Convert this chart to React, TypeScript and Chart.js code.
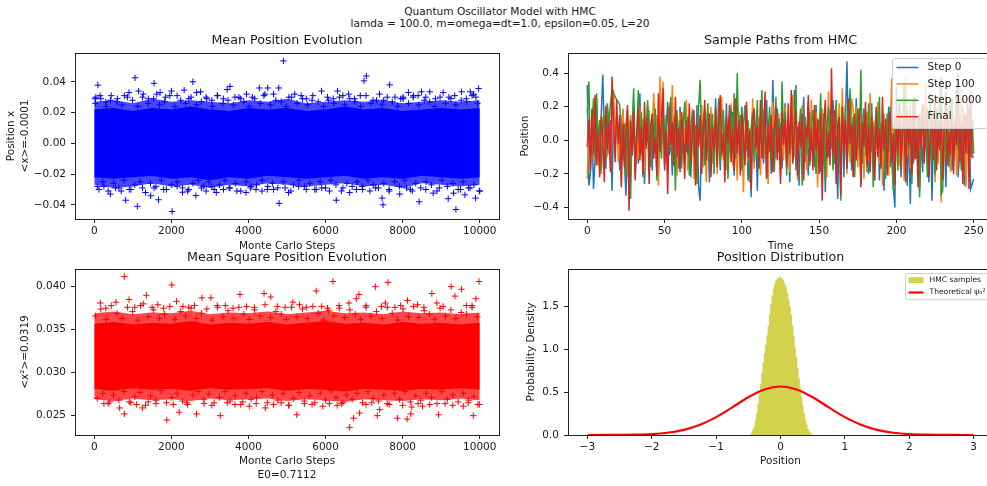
import React, { useEffect, useRef } from 'react';
import { Chart, registerables } from 'chart.js';

Chart.register(...registerables);

const FONT = '"DejaVu Sans", "Liberation Sans", sans-serif';
const TXT = '#1a1a1a';
const AXIS = '#222222';

// ---------------- text ----------------
const SUPTITLE = ['Quantum Oscillator Model with HMC', 'lamda = 100.0, m=omega=dt=1.0, epsilon=0.05, L=20'];
const TITLES = ['Mean Position Evolution', 'Sample Paths from HMC', 'Mean Square Position Evolution', 'Position Distribution'];
const X_TITLES: (string | string[])[] = ['Monte Carlo Steps', 'Time', ['Monte Carlo Steps', 'E0=0.7112'], 'Position'];
const Y_TITLES: (string | string[])[] = [['Position x', '<x>=-0.0001'], 'Position', '<x²>=0.0319', 'Probability Density'];
const PATH_LABELS = ['Step 0', 'Step 100', 'Step 1000', 'Final'];
const PATH_COLORS = ['#1f77b4', '#ff7f0e', '#2ca02c', '#d62728'];
const DIST_LABELS = ['HMC samples', 'Theoretical ψ₀²'];

// ---------------- ticks ----------------
const STEP_TICKS = [0, 2000, 4000, 6000, 8000, 10000];
const STEP_TICK_LABELS = ['0', '2000', '4000', '6000', '8000', '10000'];
const MEANX_TICKS = [-0.04, -0.02, 0, 0.02, 0.04];
const MEANX_TICK_LABELS = ['−0.04', '−0.02', '0.00', '0.02', '0.04'];
const MEANX2_TICKS = [0.025, 0.03, 0.035, 0.04];
const MEANX2_TICK_LABELS = ['0.025', '0.030', '0.035', '0.040'];
const TIME_TICKS = [0, 50, 100, 150, 200, 250];
const TIME_TICK_LABELS = ['0', '50', '100', '150', '200', '250'];
const PATH_Y_TICKS = [-0.4, -0.2, 0, 0.2, 0.4];
const PATH_Y_TICK_LABELS = ['−0.4', '−0.2', '0.0', '0.2', '0.4'];
const POS_TICKS = [-3, -2, -1, 0, 1, 2, 3];
const POS_TICK_LABELS = ['−3', '−2', '−1', '0', '1', '2', '3'];
const DENS_TICKS = [0, 0.5, 1, 1.5];
const DENS_TICK_LABELS = ['0.0', '0.5', '1.0', '1.5'];

// ---------------- mean position <x> (dense cloud + scattered crosses) ----------------
const BAND_STEPS = [0, 500, 1000, 1500, 2000, 2500, 3000, 3500, 4000, 4500, 5000, 5500, 6000, 6500, 7000, 7500, 8000, 8500, 9000, 9500, 10000];
const MX_CORE_HI = [.022, .023, .021, .023, .022, .024, .022, .021, .023, .022, .023, .021, .022, .024, .022, .023, .021, .022, .023, .022, .023];
const MX_CORE_LO = [-.022, -.023, -.022, -.021, -.023, -.022, -.024, -.022, -.023, -.021, -.022, -.023, -.022, -.021, -.023, -.022, -.023, -.021, -.022, -.023, -.022];
const MX_MID_HI = [.027, .028, .026, .029, .027, .028, .027, .026, .028, .027, .029, .026, .027, .028, .027, .028, .026, .027, .028, .027, .028];
const MX_MID_LO = [-.027, -.029, -.028, -.026, -.028, -.027, -.029, -.027, -.028, -.026, -.027, -.028, -.027, -.026, -.028, -.027, -.029, -.026, -.027, -.028, -.027];
const FR_STEP_A = [
  30, 170, 310, 440, 590, 720, 860, 990, 1130, 1270,
  1400, 1540, 1690, 1820, 1960, 2090, 2240, 2370, 2510, 2650,
  2780, 2920, 3060, 3190, 3340, 3470, 3610, 3750, 3880, 4020,
  4160, 4300, 4430, 4570, 4710, 4850, 4980, 5120, 5260, 5400,
  5530, 5670, 5810, 5950, 6080, 6220, 6360, 6500, 6630, 6770,
  6910, 7050, 7180, 7320, 7460, 7600, 7730, 7870, 8010, 8150,
  8280, 8420, 8560, 8700, 8830, 8970, 9110, 9250, 9380, 9520,
  9660, 9800, 9940,
];
const FR_STEP_B = [
  80, 220, 360, 500, 640, 770, 910, 1050, 1190, 1330,
  1460, 1600, 1740, 1870, 2010, 2150, 2290, 2420, 2560, 2700,
  2840, 2970, 3110, 3250, 3390, 3520, 3660, 3800, 3940, 4070,
  4210, 4350, 4490, 4620, 4760, 4900, 5040, 5170, 5310, 5450,
  5590, 5720, 5860, 6000, 6140, 6270, 6410, 6550, 6690, 6820,
  6960, 7100, 7240, 7370, 7510, 7650, 7790, 7920, 8060, 8200,
  8340, 8470, 8610, 8750, 8890, 9020, 9160, 9300, 9440, 9570,
  9710, 9850, 9990,
];
const MX_FR_HI = [
  .026, .029, .024, .031, .027, .025, .030, .028, .024, .032,
  .026, .029, .025, .027, .031, .024, .028, .026, .030, .025,
  .027, .029, .024, .031, .026, .028, .025, .030, .027, .024,
  .029, .026, .032, .025, .028, .027, .024, .030, .026, .029,
  .025, .031, .027, .024, .028, .026, .030, .025, .029, .027,
  .024, .031, .026, .028, .025, .030, .027, .024, .029, .026,
  .031, .025, .028, .027, .024, .030, .026, .029, .025, .028,
  .027, .031, .026,
];
const MX_FR_LO = [
  -.028, -.025, -.031, -.026, -.029, -.024, -.030, -.027, -.025, -.032,
  -.026, -.028, -.024, -.030, -.027, -.025, -.029, -.031, -.026, -.024,
  -.028, -.025, -.030, -.027, -.024, -.029, -.026, -.031, -.025, -.028,
  -.027, -.024, -.030, -.026, -.029, -.025, -.032, -.027, -.024, -.028,
  -.026, -.030, -.025, -.029, -.024, -.027, -.031, -.026, -.028, -.025,
  -.030, -.024, -.027, -.029, -.026, -.031, -.025, -.028, -.024, -.030,
  -.026, -.029, -.025, -.027, -.031, -.024, -.028, -.026, -.030, -.025,
  -.029, -.027, -.031,
];
const MX_PTS_STEP = [
  95, 43, 20, 150, 300, 420, 600, 780, 900, 1058, 1150, 1250, 1400, 1552, 1620, 1708, 1850, 2003, 2150, 2332,
  2450, 2557, 2650, 2757, 2900, 3050, 3200, 3350, 3450, 3520, 3650, 3800, 3950, 4100, 4283, 4400, 4500, 4650, 4786, 4907,
  5050, 5200, 5366, 5500, 5650, 5895, 6050, 6200, 6312, 6450, 6598, 6750, 6900, 6997, 7057, 7231, 7400, 7508, 7664, 7800,
  7950, 8011, 8150, 8271, 8400, 8488, 8600, 8705, 8850, 9050, 9200, 9350, 9528, 9650, 9754, 9840, 9970, 9900,
  121, 250, 416, 550, 700, 815, 950, 1118, 1250, 1465, 1550, 1665, 1800, 2020, 2150, 2289, 2450, 2636, 2780, 2900,
  3050, 3165, 3350, 3500, 3700, 3936, 4050, 4196, 4350, 4500, 4650, 4794, 4950, 5100, 5300, 5500, 5757, 5900, 6100, 6277,
  6450, 6624, 6800, 6950, 7150, 7300, 7465, 7491, 7650, 7924, 8100, 8250, 8427, 8600, 8791, 8950, 9181, 9320, 9381, 9500,
  9615, 9750, 9892, 10000,
];
const MX_PTS_VAL = [
  .0378, .030, .029, .031, .027, .028, .029, .031, .033, .0426, .034, .030, .029, .039, .032, .033, .030, .034, .031, .0346,
  .029, .040, .033, .0335, .030, .028, .031, .029, .035, .037, .030, .029, .032, .030, .036, .031, .036, .032, .036, .0536,
  .030, .032, .031, .029, .028, .034, .030, .029, .034, .031, .032, .029, .031, .0406, .0438, .028, .032, .028, .038, .030,
  .029, .030, .033, .030, .031, .0335, .030, .0335, .029, .033, .030, .031, .0335, .029, .0335, .032, .0356, .030,
  -.030, -.028, -.033, -.029, -.031, -.037, -.030, -.041, -.029, -.0341, -.029, -.0367, -.030, -.0443, -.028, -.0318, -.030, -.034, -.029, -.031,
  -.028, -.032, -.030, -.029, -.031, -.032, -.029, -.030, -.031, -.028, -.030, -.039, -.029, -.031, -.028, -.030, -.030, -.029, -.031, -.037,
  -.029, -.032, -.030, -.028, -.031, -.029, -.0356, -.040, -.030, -.033, -.029, -.031, -.038, -.030, -.0324, -.029, -.036, -.0324, -.043, -.030,
  -.0335, -.029, -.0356, -.031,
];

// ---------------- mean square position <x²> ----------------
const MX2_CORE_HI = [.0357, .0359, .0356, .0358, .0357, .0360, .0356, .0358, .0357, .0359, .0356, .0358, .0360, .0357, .0358, .0356, .0359, .0357, .0358, .0356, .0358];
const MX2_CORE_LO = [.0281, .0279, .0282, .0280, .0281, .0279, .0282, .0280, .0281, .0282, .0279, .0281, .0280, .0278, .0281, .0280, .0279, .0281, .0280, .0282, .0280];
const MX2_MID_HI = [.0369, .0371, .0368, .0370, .0369, .0372, .0368, .0370, .0369, .0371, .0368, .0370, .0372, .0369, .0370, .0368, .0371, .0369, .0370, .0368, .0370];
const MX2_MID_LO = [.0269, .0267, .0270, .0268, .0269, .0267, .0270, .0268, .0269, .0270, .0267, .0269, .0268, .0266, .0269, .0268, .0267, .0269, .0268, .0270, .0268];
const MX2_FR_HI = [
  .0366, .0374, .0362, .0378, .0369, .0363, .0376, .0371, .0361, .0380,
  .0365, .0373, .0363, .0368, .0377, .0362, .0371, .0366, .0375, .0363,
  .0369, .0374, .0361, .0378, .0365, .0372, .0363, .0376, .0368, .0362,
  .0373, .0366, .0379, .0364, .0371, .0368, .0362, .0376, .0365, .0374,
  .0363, .0377, .0369, .0361, .0372, .0366, .0375, .0364, .0373, .0368,
  .0362, .0378, .0366, .0371, .0363, .0376, .0369, .0361, .0374, .0365,
  .0377, .0364, .0372, .0368, .0362, .0375, .0366, .0373, .0363, .0370,
  .0368, .0378, .0365,
];
const MX2_FR_LO = [
  .0270, .0276, .0264, .0274, .0268, .0278, .0266, .0272, .0277, .0262,
  .0273, .0268, .0279, .0265, .0271, .0276, .0267, .0263, .0274, .0278,
  .0269, .0275, .0265, .0271, .0278, .0267, .0273, .0263, .0276, .0269,
  .0271, .0278, .0265, .0274, .0268, .0276, .0262, .0270, .0277, .0267,
  .0273, .0265, .0276, .0268, .0279, .0271, .0264, .0274, .0269, .0276,
  .0265, .0278, .0270, .0267, .0274, .0263, .0276, .0269, .0278, .0266,
  .0273, .0268, .0276, .0271, .0264, .0278, .0269, .0274, .0266, .0276,
  .0268, .0272, .0263,
];
const MX2_PTS_STEP = [
  156, 300, 563, 780, 902, 1050, 1200, 1352, 1500, 1650, 1800, 2011, 2133, 2300, 2450, 2600, 2792, 3026, 3200, 3400,
  3600, 3780, 3950, 4150, 4404, 4578, 4750, 4950, 5150, 5323, 5500, 5757, 5900, 6050, 6190, 6350, 6607, 6797, 6866, 7050,
  7291, 7450, 7552, 7621, 7800, 7950, 8124, 8384, 8550, 8757, 8887, 9050, 9259, 9355, 9528, 9650, 9800, 9979, 9900,
  251, 400, 659, 780, 950, 1100, 1248, 1400, 1600, 1881, 2050, 2202, 2400, 2653, 2850, 3050, 3269, 3450, 3650, 3850,
  4023, 4200, 4439, 4650, 4850, 5050, 5254, 5450, 5650, 5930, 6100, 6300, 6450, 6624, 6728, 6884, 7050, 7200, 7343, 7404,
  7600, 7864, 8000, 8115, 8210, 8237, 8400, 8514, 8700, 8930, 9100, 9300, 9572, 9700, 9832, 9950,
];
const MX2_PTS_VAL = [
  .0381, .0375, .0382, .04117, .0385, .0376, .0378, .0390, .0376, .0379, .0375, .0402, .0383, .0377, .0376, .0378, .0387, .0387, .0376, .0378,
  .0375, .0391, .0377, .0376, .0392, .0388, .0377, .0376, .0382, .0379, .0376, .0395, .0377, .0375, .0406, .0378, .0381, .0386, .0391, .0376,
  .0400, .0377, .0381, .0405, .0376, .0378, .0384, .0379, .0376, .0392, .0381, .0377, .0400, .0389, .0397, .0378, .0376, .0406, .0386,
  .0264, .0266, .0259, .0252, .0265, .0263, .0259, .0266, .0264, .0245, .0263, .0254, .0265, .0252, .0264, .0262, .0250, .0265, .0263, .0266,
  .0261, .0264, .0259, .0263, .0265, .0262, .0251, .0264, .0263, .0261, .0264, .0262, .0265, .02364, .0247, .0253, .0263, .0265, .0250, .0257,
  .0264, .0247, .0262, .0246, .0252, .0260, .0264, .0261, .0263, .0251, .0264, .0262, .0261, .0265, .0250, .0263,
];

// ---------------- sample paths (t = 0..250) ----------------
const PATH_STEP0 = [
  .33, -.27, -.20, .10, -.29, -.12, .09, .05, -.11, .15,
  .39, .05, -.17, .22, -.08, .12, -.30, .20, -.02, .14,
  .08, -.18, .05, .18, -.12, -.33, .02, -.24, .10, -.05,
  .15, -.22, .06, -.14, .28, -.08, .12, -.26, .03, .20,
  -.10, .07, -.18, .22, -.04, .12, -.20, .09, -.02, .18,
  -.15, .05, .23, -.09, .02, -.21, .14, -.06, .10, -.17,
  .20, -.02, .08, -.13, .16, -.07, .04, -.22, .11, .00,
  -.14, .21, -.28, -.36, .06, -.10, .18, -.05, .12, -.25,
  .15, .02, -.12, .25, -.03, .09, -.18, .04, .13, -.08,
  .22, -.15, .05, -.02, .17, -.21, .08, -.12, .14, -.04,
  .20, -.16, .03, .11, -.24, .07, -.34, .15, -.06, .09,
  -.30, .12, -.02, .18, -.14, .05, .24, -.09, .13, -.20,
  .36, .02, -.11, .19, -.07, .10, -.17, .06, .22, -.12,
  .03, -.25, .15, -.04, .30, -.18, .08, -.27, .11, -.02,
  .26, -.13, .05, -.21, .17, -.06, .09, -.16, .21, -.03,
  .12, -.19, .04, .15, -.31, .08, -.10, .18, -.05, .24,
  -.14, .03, -.35, .10, -.08, .20, -.22, .12, .47, -.04,
  .16, -.18, .07, -.12, .25, -.02, .11, -.26, .06, .19,
  -.09, .14, -.20, .03, .22, -.15, .08, -.05, .17, -.24,
  .10, -.01, -.30, .13, -.07, .20, -.16, .04, -.28, -.40,
  .32, -.12, .09, -.22, .15, -.03, .18, -.27, .06, -.38,
  .11, -.14, .26, -.08, .14, -.30, .02, -.19, .21, -.05,
  .08, -.25, .16, -.36, .05, -.11, .19, -.04, .12, .38,
  -.15, .07, -.28, .13, -.02, .24, -.18, .09, -.06, .17,
  -.22, .04, -.13, .20, -.27, .10, -.08, .15, -.29, -.26,
  -.23,
];
const PATH_STEP100 = [
  -.23, .10, -.05, .18, -.12, .02, .25, -.15, .08, -.20,
  .14, -.03, .21, -.10, .06, -.18, .12, .30, -.07, .16,
  -.13, .05, -.25, .19, -.02, .11, -.22, .07, .15, -.09,
  .23, -.16, .03, -.11, .20, -.05, .13, -.19, .09, -.01,
  .18, -.14, .06, .28, -.08, .15, -.27, .38, .02, .35,
  -.12, .08, -.17, .22, -.04, .33, -.10, .14, -.21, .05,
  .17, -.13, .09, -.02, .24, -.18, .11, -.06, .19, -.23,
  .07, -.11, .15, -.03, .21, -.16, .04, -.25, .12, -.08,
  .20, -.14, .06, .16, -.20, .09, -.05, .26, -.12, .03,
  -.18, .13, -.07, .22, -.15, .08, .00, -.24, .17, -.09,
  .11, -.31, .05, .19, -.13, .07, -.04, .25, -.17, .10,
  -.08, .14, -.21, .06, .18, -.11, .02, -.26, .13, -.05,
  .23, -.16, .09, -.01, .16, -.22, .07, -.12, .20, -.06,
  .12, -.19, .04, .27, -.10, .15, -.24, .08, -.03, .21,
  -.14, .06, -.18, .11, -.07, .24, -.12, .03, .17, -.28,
  .10, -.05, .19, -.15, .07, -.22, .29, -.09, .13, -.02,
  .18, -.17, .05, .22, -.11, .31, -.06, .14, -.20, .08,
  -.13, .25, .19, -.04, .20, -.16, .10, -.08, .15, -.23,
  .06, .17, -.12, .28, -.07, .11, -.19, .04, .23, -.14,
  .09, -.27, .16, -.03, .12, -.21, .07, .37, -.10, .14,
  -.06, .20, -.15, .03, .18, -.24, .38, -.09, .13, -.17,
  .08, .26, -.12, .05, -.20, .16, -.04, .22, -.11, .33,
  -.18, .07, .14, -.08, .19, -.25, .10, -.14, .35, -.37,
  .06, -.13, .17, -.05, .21, -.19, .09, -.02, .15, -.21,
  .10, -.16, .30, -.08, .12, -.28, .05, .18, -.11, .04,
  .13,
];
const PATH_STEP1000 = [
  .16, .35, -.15, .08, .25, -.10, .28, -.02, .12, -.18,
  .06, .15, -.08, .20, .10, .22, .30, .28, .26, .24,
  .23, .21, .05, -.12, .10, -.20, .18, -.05, -.35, .08,
  .31, -.14, .04, .30, -.09, .17, -.22, .11, -.03, .24,
  .07, -.16, .13, -.06, .19, -.24, .09, .02, -.11, .21,
  -.04, .15, -.19, .06, .26, -.13, .10, -.30, .18, -.02,
  .12, -.17, .08, .23, -.07, .14, -.21, .05, .17, -.10,
  .09, -.26, .20, .36, -.05, .11, -.15, .07, .22, -.12,
  .04, .16, -.20, .10, -.03, .25, -.14, .08, .18, -.09,
  .13, -.23, .06, .19, -.07, .28, -.11, .40, -.01, .15,
  -.18, .09, .21, -.06, .12, -.25, .07, .17, -.13, .03,
  .24, -.16, .10, .30, -.08, .14, -.22, .05, .20, -.10,
  .08, -.19, .26, -.04, .13, -.14, .35, .02, .17, -.21,
  .09, -.06, .22, -.12, .11, .33, -.17, .07, .19, -.27,
  .04, .14, -.09, .23, -.15, .10, .18, -.05, -.20, .12,
  .06, .28, -.11, .16, -.24, .08, .20, -.07, .13, -.18,
  .03, .24, -.13, .11, -.36, .17, -.04, .21, -.16, .07,
  .31, -.10, .14, -.22, .09, .19, -.06, .42, -.14, .12,
  .05, -.19, .22, -.09, .15, -.28, .08, .18, -.02, .26,
  -.17, .11, .03, -.23, .16, -.07, .20, -.12, -.30, .13,
  .06, -.18, .24, -.10, .09, .35, -.15, .14, -.05, .21,
  -.26, .07, .17, -.11, .12, -.34, .04, .20, -.08, .15,
  -.22, .10, .28, -.14, .06, -.20, .17, -.03, .23, -.32,
  -.30, .11, -.09, .19, -.16, .05, .25, -.12, .08, .35,
  -.06, .14, -.18, .09, -.04, .16, .03, .20, -.10, .12,
  -.08,
];
const PATH_FINAL = [
  -.04, .12, -.18, .19, -.08, .27, -.15, .05, -.22, .14,
  .02, -.25, .20, -.06, .11, -.19, .38, .08, -.13, .24,
  -.02, .15, -.28, .10, -.16, .06, .21, -.42, .12, -.09,
  .17, -.24, .04, .19, -.12, .08, -.20, .23, -.05, .13,
  -.26, .09, .16, -.11, .02, -.21, .28, -.07, .14, .31,
  -.18, .06, -.32, .20, -.03, .11, -.15, .26, -.10, .07,
  -.19, .17, .03, -.23, .12, -.08, .22, -.14, .05, .18,
  -.27, .10, -.04, .15, -.20, .09, .24, -.12, .01, .16,
  -.22, .08, -.06, .19, -.16, .11, .27, -.09, .04, -.25,
  .14, -.02, .21, -.13, .07, -.18, .25, -.08, .12, -.21,
  .16, .03, -.15, .23, -.10, .06, -.29, .13, .19, -.05,
  .09, -.17, .24, -.11, .02, .29, -.23, .10, -.07, .15,
  -.19, .05, .20, -.12, .08, -.26, .17, -.03, .12, -.16,
  .22, -.08, .30, -.14, .06, .18, -.21, .11, -.04, .16,
  -.24, .09, .01, .27, -.13, .07, -.18, .21, -.06, .13,
  -.20, .15, -.36, .10, .24, -.11, .05, -.15, .43, -.09,
  .18, -.26, .08, .14, -.33, .20, -.07, .12, -.17, .25,
  -.02, .10, -.22, .16, -.12, .06, .19, -.28, .11, -.04,
  .23, -.15, .08, -.19, .14, .02, -.24, .20, -.10, .07,
  -.16, .26, -.06, .12, -.21, .09, .17, -.13, .04, -.27,
  .15, -.08, .22, -.17, .06, .11, -.25, .18, -.03, .13,
  -.20, .24, -.11, .07, -.28, .16, -.05, .21, -.14, .09,
  .19, -.22, .03, .14, -.12, .27, -.18, .08, -.06, .20,
  -.24, .11, .29, -.15, .05, -.09, .17, -.20, .12, -.03,
  .40, -.13, .10, -.26, .16, -.08, .22, -.29, .30, -.10,
  -.10,
];

// ---------------- position distribution ----------------
const HIST_LEFT = [
  -0.48, -0.46, -0.44, -0.42, -0.40, -0.38, -0.36, -0.34, -0.32, -0.30,
  -0.28, -0.26, -0.24, -0.22, -0.20, -0.18, -0.16, -0.14, -0.12, -0.10,
  -0.08, -0.06, -0.04, -0.02, 0.00, 0.02, 0.04, 0.06, 0.08, 0.10,
  0.12, 0.14, 0.16, 0.18, 0.20, 0.22, 0.24, 0.26, 0.28, 0.30,
  0.32, 0.34, 0.36, 0.38, 0.40, 0.42, 0.44, 0.46, 0.48,
];
const HIST_RIGHT_EDGE = 0.50;
const HIST_DENSITY = [
  0.01, 0.03, 0.06, 0.10, 0.17, 0.25, 0.36, 0.48, 0.60, 0.72,
  0.84, 0.95, 1.05, 1.16, 1.27, 1.40, 1.52, 1.62, 1.70, 1.76,
  1.80, 1.82, 1.83, 1.84, 1.83, 1.82, 1.80, 1.76, 1.72, 1.65,
  1.58, 1.50, 1.40, 1.28, 1.15, 1.02, 0.90, 0.78, 0.66, 0.55,
  0.44, 0.34, 0.25, 0.18, 0.12, 0.07, 0.04, 0.02, 0.01,
];
const THEO_X = [-3, -2.75, -2.5, -2.25, -2, -1.75, -1.5, -1.25, -1, -0.75, -0.5, -0.25, 0, 0.25, 0.5, 0.75, 1, 1.25, 1.5, 1.75, 2, 2.25, 2.5, 2.75, 3];
const THEO_Y = [0.0001, 0.0003, 0.0011, 0.0036, 0.0103, 0.0264, 0.0593, 0.1182, 0.2076, 0.3215, 0.4394, 0.5300, 0.5642, 0.5300, 0.4394, 0.3215, 0.2076, 0.1182, 0.0593, 0.0264, 0.0103, 0.0036, 0.0011, 0.0003, 0.0001];

// ---------------- helpers ----------------
const pts = (xs: number[], ys: number[]) => xs.map((x, i) => ({ x, y: ys[i] }));
const idx = (ys: number[]) => ys.map((y, i) => ({ x: i, y }));

function axis(o: any) {
  return {
    type: 'linear',
    bounds: 'data',
    min: o.min,
    max: o.max,
    afterBuildTicks: (s: any) => { s.ticks = o.ticks.map((v: number) => ({ value: v })); },
    afterFit: (s: any) => { if (o.w != null) s.width = o.w; if (o.h != null) s.height = o.h; },
    ticks: {
      autoSkip: false, maxRotation: 0, minRotation: 0, padding: o.tickPad,
      color: TXT, font: { family: FONT, size: 10.5 },
      callback: (_v: any, i: number) => o.labels[i],
    },
    grid: { drawOnChartArea: false, drawTicks: true, tickLength: 4, tickColor: AXIS, color: AXIS, lineWidth: 1 },
    border: { display: false },
    title: { display: true, text: o.title, color: TXT, font: { family: FONT, size: 10.5, lineHeight: '13.3px' }, padding: o.titlePad },
  };
}

const framePlugin = {
  id: 'frame',
  afterDatasetsDraw(chart: any) {
    const { ctx, chartArea: a } = chart;
    const al = (p: number) => Math.round(p - 0.5) + 0.5;
    ctx.save();
    ctx.strokeStyle = AXIS;
    ctx.lineWidth = 1;
    ctx.strokeRect(al(a.left), al(a.top), al(a.right) - al(a.left), al(a.bottom) - al(a.top));
    ctx.restore();
  },
};

function legendPlugin(cfg: any) {
  return {
    id: 'boxLegend',
    afterDatasetsDraw(chart: any) {
      const { ctx, chartArea: a } = chart;
      const x0 = Math.round(a.right - cfg.insetRight - cfg.w) + 0.5;
      const y0 = Math.round(a.top + cfg.insetTop) + 0.5;
      const w = cfg.w, h = cfg.h, r = 2.5;
      ctx.save();
      ctx.beginPath();
      ctx.moveTo(x0 + r, y0);
      ctx.lineTo(x0 + w - r, y0);
      ctx.arcTo(x0 + w, y0, x0 + w, y0 + r, r);
      ctx.lineTo(x0 + w, y0 + h - r);
      ctx.arcTo(x0 + w, y0 + h, x0 + w - r, y0 + h, r);
      ctx.lineTo(x0 + r, y0 + h);
      ctx.arcTo(x0, y0 + h, x0, y0 + h - r, r);
      ctx.lineTo(x0, y0 + r);
      ctx.arcTo(x0, y0, x0 + r, y0, r);
      ctx.closePath();
      ctx.fillStyle = 'rgba(255,255,255,0.8)';
      ctx.fill();
      ctx.strokeStyle = '#cccccc';
      ctx.lineWidth = 1;
      ctx.stroke();
      cfg.items.forEach((it: any, i: number) => {
        const cy = y0 + cfg.firstRow + i * cfg.rowGap;
        if (it.kind === 'line') {
          ctx.strokeStyle = it.color;
          ctx.lineWidth = it.lw;
          ctx.beginPath();
          ctx.moveTo(x0 + cfg.hx0, cy);
          ctx.lineTo(x0 + cfg.hx1, cy);
          ctx.stroke();
        } else {
          ctx.fillStyle = it.color;
          ctx.fillRect(x0 + cfg.hx0, cy - cfg.patchH / 2, cfg.hx1 - cfg.hx0, cfg.patchH);
        }
        ctx.fillStyle = TXT;
        ctx.font = `${cfg.fontSize}px ${FONT}`;
        ctx.textBaseline = 'middle';
        ctx.textAlign = 'left';
        ctx.fillText(it.label, x0 + cfg.tx, cy);
      });
      ctx.restore();
    },
  };
}

function baseOptions(o: any) {
  return {
    responsive: false,
    animation: false,
    devicePixelRatio: 1,
    events: [],
    layout: { padding: { left: 0, top: 0, right: o.padRight, bottom: 0 } },
    plugins: {
      legend: { display: false },
      tooltip: { enabled: false },
      title: {
        display: true, text: o.title, fullSize: false, align: 'center', color: TXT,
        font: { family: FONT, size: 12.7, weight: 'normal', lineHeight: 1.2 },
        padding: { top: o.tPadTop, bottom: o.tPadBottom },
      },
    },
    scales: { x: axis(o.x), y: axis(o.y) },
  };
}

function bandSets(xs: number[], hi: number[], lo: number[], color: string) {
  return [
    { data: pts(xs, hi), fill: '+1', backgroundColor: color, borderColor: 'rgba(0,0,0,0)', borderWidth: 0, pointRadius: 0 },
    { data: pts(xs, lo), fill: false, borderColor: 'rgba(0,0,0,0)', borderWidth: 0, pointRadius: 0 },
  ];
}

function crossSet(xs: number[], ys: number[], color: string) {
  return {
    data: pts(xs, ys), showLine: false, pointStyle: 'cross', pointRadius: 3.2, pointBorderWidth: 1,
    pointBorderColor: color, pointBackgroundColor: color, borderColor: color,
  };
}

export default function App() {
  const r0 = useRef<HTMLCanvasElement>(null);
  const r1 = useRef<HTMLCanvasElement>(null);
  const r2 = useRef<HTMLCanvasElement>(null);
  const r3 = useRef<HTMLCanvasElement>(null);

  useEffect(() => {
    document.body.style.margin = '0';
    const charts: Chart[] = [];

    // top-left: mean position
    charts.push(new Chart(r0.current!, {
      type: 'line',
      data: {
        datasets: [
          crossSet(MX_PTS_STEP, MX_PTS_VAL, '#0000ff'),
          crossSet(FR_STEP_A, MX_FR_HI, '#0000ff'),
          crossSet(FR_STEP_B, MX_FR_LO, '#0000ff'),
          ...bandSets(BAND_STEPS, MX_CORE_HI, MX_CORE_LO, '#0000ff'),
          ...bandSets(BAND_STEPS, MX_MID_HI, MX_MID_LO, 'rgba(0,0,255,0.72)'),
        ] as any,
      },
      options: baseOptions({
        padRight: 31, title: TITLES[0], tPadTop: 5.4, tPadBottom: 4.4,
        x: { min: -500, max: 10499, ticks: STEP_TICKS, labels: STEP_TICK_LABELS, h: 35, tickPad: 2, title: X_TITLES[0], titlePad: { top: 0, bottom: 1.35 } },
        y: { min: -0.0492, max: 0.0587, ticks: MEANX_TICKS, labels: MEANX_TICK_LABELS, w: 75, tickPad: 5, title: Y_TITLES[0], titlePad: { top: 5.05, bottom: 0 } },
      }) as any,
      plugins: [framePlugin],
    }));

    // top-right: sample paths
    const pathData = [PATH_STEP0, PATH_STEP100, PATH_STEP1000, PATH_FINAL];
    charts.push(new Chart(r1.current!, {
      type: 'line',
      data: {
        datasets: pathData.map((d, i) => ({
          label: PATH_LABELS[i], data: idx(d), borderColor: PATH_COLORS[i], borderWidth: 1.5,
          pointRadius: 0, tension: 0, fill: false, order: 4 - i,
        })) as any,
      },
      options: baseOptions({
        padRight: 17, title: TITLES[1], tPadTop: 5.4, tPadBottom: 4.4,
        x: { min: -12.5, max: 262.5, ticks: TIME_TICKS, labels: TIME_TICK_LABELS, h: 35, tickPad: 2, title: X_TITLES[1], titlePad: { top: 0, bottom: 1.35 } },
        y: { min: -0.469, max: 0.52, ticks: PATH_Y_TICKS, labels: PATH_Y_TICK_LABELS, w: 68, tickPad: 5, title: Y_TITLES[1], titlePad: { top: 18.35, bottom: 0 } },
      }) as any,
      plugins: [framePlugin, legendPlugin({
        insetRight: 6, insetTop: 5, w: 95, h: 70, firstRow: 9, rowGap: 16.4, hx0: 4, hx1: 26, tx: 35, fontSize: 10.5,
        items: PATH_LABELS.map((l, i) => ({ label: l, color: PATH_COLORS[i], kind: 'line', lw: 1.5 })),
      })],
    }));

    // bottom-left: mean square position
    charts.push(new Chart(r2.current!, {
      type: 'line',
      data: {
        datasets: [
          crossSet(MX2_PTS_STEP, MX2_PTS_VAL, '#ff0000'),
          crossSet(FR_STEP_A, MX2_FR_HI, '#ff0000'),
          crossSet(FR_STEP_B, MX2_FR_LO, '#ff0000'),
          ...bandSets(BAND_STEPS, MX2_CORE_HI, MX2_CORE_LO, '#ff0000'),
          ...bandSets(BAND_STEPS, MX2_MID_HI, MX2_MID_LO, 'rgba(255,0,0,0.72)'),
        ] as any,
      },
      options: baseOptions({
        padRight: 31, title: TITLES[2], tPadTop: 5.9, tPadBottom: 3.9,
        x: { min: -500, max: 10499, ticks: STEP_TICKS, labels: STEP_TICK_LABELS, h: 51, tickPad: 2, title: X_TITLES[2], titlePad: { top: 0, bottom: 4.35 } },
        y: { min: 0.02275, max: 0.04205, ticks: MEANX2_TICKS, labels: MEANX2_TICK_LABELS, w: 75, tickPad: 5, title: Y_TITLES[2], titlePad: { top: 18.85, bottom: 0 } },
      }) as any,
      plugins: [framePlugin],
    }));

    // bottom-right: position distribution
    charts.push(new Chart(r3.current!, {
      type: 'line',
      data: {
        datasets: [
          { label: DIST_LABELS[1], data: pts(THEO_X, THEO_Y), borderColor: '#ff0000', borderWidth: 2.2, pointRadius: 0, cubicInterpolationMode: 'monotone', fill: false },
          {
            label: DIST_LABELS[0],
            data: [...pts(HIST_LEFT, HIST_DENSITY), { x: HIST_RIGHT_EDGE, y: 0 }],
            stepped: true, fill: 'origin', backgroundColor: 'rgba(191,191,0,0.7)', borderColor: 'rgba(0,0,0,0)', borderWidth: 0, pointRadius: 0,
          },
        ] as any,
      },
      options: baseOptions({
        padRight: 17, title: TITLES[3], tPadTop: 5.9, tPadBottom: 3.9,
        x: { min: -3.3, max: 3.3, ticks: POS_TICKS, labels: POS_TICK_LABELS, h: 51, tickPad: 2, title: X_TITLES[3], titlePad: { top: 0, bottom: 17.65 } },
        y: { min: 0, max: 1.93, ticks: DENS_TICKS, labels: DENS_TICK_LABELS, w: 68, tickPad: 5, title: Y_TITLES[3], titlePad: { top: 25.05, bottom: 0 } },
      }) as any,
      plugins: [framePlugin, legendPlugin({
        insetRight: 4, insetTop: 3.7, w: 84, h: 26.3, firstRow: 6.6, rowGap: 12.4, hx0: 3, hx1: 18, tx: 24, fontSize: 7.6, patchH: 5.8,
        items: [
          { label: DIST_LABELS[0], color: 'rgba(191,191,0,0.7)', kind: 'patch' },
          { label: DIST_LABELS[1], color: '#ff0000', kind: 'line', lw: 2.2 },
        ],
      })],
    }));

    return () => charts.forEach((c) => c.destroy());
  }, []);

  return (
    <div style={{ position: 'fixed', left: 0, top: 0, width: 987, height: 486, overflow: 'hidden', background: '#ffffff' }}>
      <div style={{ position: 'absolute', left: 0, top: 5, width: 1000, textAlign: 'center', fontFamily: FONT, fontSize: 10.6, lineHeight: '12px', color: TXT, whiteSpace: 'nowrap' }}>
        {SUPTITLE[0]}<br />{SUPTITLE[1]}
      </div>
      <canvas ref={r0} width={530} height={226} style={{ position: 'absolute', left: 0, top: 28, width: 530, height: 226 }} />
      <canvas ref={r1} width={510} height={226} style={{ position: 'absolute', left: 500, top: 28, width: 510, height: 226 }} />
      <canvas ref={r2} width={530} height={242} style={{ position: 'absolute', left: 0, top: 244, width: 530, height: 242 }} />
      <canvas ref={r3} width={510} height={242} style={{ position: 'absolute', left: 500, top: 244, width: 510, height: 242 }} />
    </div>
  );
}
